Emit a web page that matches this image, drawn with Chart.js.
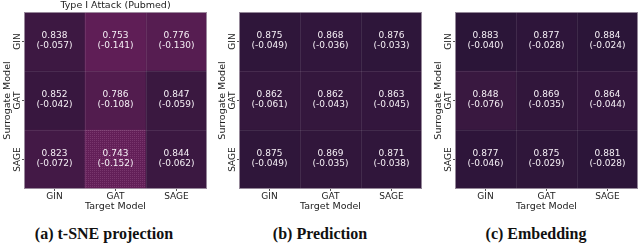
<!DOCTYPE html>
<html><head><meta charset="utf-8">
<script src="https://cdn.jsdelivr.net/npm/chart.js@4.4.0/dist/chart.umd.min.js"></script>
<style>
html,body{margin:0;padding:0;background:#fff;width:640px;height:243px;overflow:hidden;position:relative;}
canvas{position:absolute;top:0;}
.cap{position:absolute;top:225px;font:bold 16px "Liberation Serif","Times New Roman",serif;line-height:18px;color:#111;white-space:nowrap;transform:translateX(-50%);}
</style></head><body>
<canvas id="c0" width="210" height="215" style="left:0px"></canvas>
<canvas id="c1" width="210" height="215" style="left:215px"></canvas>
<canvas id="c2" width="209" height="215" style="left:431px"></canvas>
<div class="cap" style="left:104px">(a) t-SNE projection</div>
<div class="cap" style="left:320px">(b) Prediction</div>
<div class="cap" style="left:536px">(c) Embedding</div>
<script>
// ---- data ----
const targetModels = ['GIN', 'GAT', 'SAGE'];
const surrogateModels = ['GIN', 'GAT', 'SAGE'];
const chartTitle = 'Type I Attack (Pubmed)';
const xAxisTitle = 'Target Model';
const yAxisTitle = 'Surrogate Model';

const tsneValues = [[0.838, 0.753, 0.776], [0.852, 0.786, 0.847], [0.823, 0.743, 0.844]];
const tsneDrops  = [[-0.057, -0.141, -0.130], [-0.042, -0.108, -0.059], [-0.072, -0.152, -0.062]];
const predValues = [[0.875, 0.868, 0.876], [0.862, 0.862, 0.863], [0.875, 0.869, 0.871]];
const predDrops  = [[-0.049, -0.036, -0.033], [-0.061, -0.043, -0.045], [-0.049, -0.035, -0.038]];
const embValues  = [[0.883, 0.877, 0.884], [0.848, 0.869, 0.864], [0.877, 0.875, 0.881]];
const embDrops   = [[-0.040, -0.028, -0.024], [-0.076, -0.035, -0.044], [-0.046, -0.029, -0.028]];

// ---- styling ----
const FONT = 'DejaVu Sans';
const TEXT = '#222';
const lightRGB = [99, 31, 88], darkRGB = [43, 21, 56];
const vLight = 0.743, vDark = 0.884;
function cmap(v) {
  let t = (v - vLight) / (vDark - vLight);
  t = Math.max(0, Math.min(1, t));
  const c = lightRGB.map((l, k) => Math.round(l + (darkRGB[k] - l) * t));
  return `rgb(${c[0]},${c[1]},${c[2]})`;
}
function hatch(base) {
  const p = document.createElement('canvas');
  p.width = 2; p.height = 2;
  const g = p.getContext('2d');
  g.fillStyle = base; g.fillRect(0, 0, 2, 2);
  g.fillStyle = 'rgba(170,110,160,0.3)'; g.fillRect(0, 0, 1, 1);
  return g.createPattern(p, 'repeat');
}

const cellText = {
  id: 'cellText',
  afterDatasetsDraw(chart) {
    const ctx = chart.ctx;
    const area = chart.chartArea;
    const metas = chart.data.datasets.map((d, i) => chart.getDatasetMeta(i));
    ctx.save();
    // dividers
    ctx.strokeStyle = 'rgba(255,255,255,0.09)';
    ctx.lineWidth = 1;
    const bars0 = metas[0].data;
    for (let j = 0; j < bars0.length - 1; j++) {
      const bx = Math.round((bars0[j].x + bars0[j + 1].x) / 2) + 0.5;
      ctx.beginPath(); ctx.moveTo(bx, area.top); ctx.lineTo(bx, area.bottom); ctx.stroke();
    }
    for (let i = 0; i < metas.length - 1; i++) {
      const by = Math.round(metas[i].data[0].y) + 0.5;
      ctx.beginPath(); ctx.moveTo(area.left, by); ctx.lineTo(area.right, by); ctx.stroke();
    }
    // frame
    ctx.strokeStyle = 'rgba(175,165,178,0.8)';
    ctx.strokeRect(area.left + 0.5, area.top + 0.5, area.right - area.left - 1, area.bottom - area.top - 1);
    // text
    ctx.fillStyle = '#f6f0f6';
    ctx.font = `9px "${FONT}"`;
    ctx.textAlign = 'center';
    ctx.textBaseline = 'middle';
    chart.data.datasets.forEach((ds, i) => {
      metas[i].data.forEach((bar, j) => {
        const cx = bar.x, cy = (bar.y + bar.base) / 2;
        ctx.fillText(ds.vals[j].toFixed(3), cx, cy - 5.7);
        ctx.fillText('(' + ds.drops[j].toFixed(3) + ')', cx, cy + 4.5);
      });
    });
    ctx.restore();
  }
};

function makeChart(id, values, drops, withTitle, padRight, hatchCell) {
  const nRows = surrogateModels.length;
  const datasets = [];
  for (let k = 0; k < nRows; k++) {
    const r = nRows - 1 - k; // bottom dataset = last surrogate model
    const colors = values[r].map((v, j) => {
      const c = cmap(v);
      return (hatchCell && hatchCell[0] === r && hatchCell[1] === j) ? hatch(c) : c;
    });
    datasets.push({
      label: surrogateModels[r],
      data: values[r].map(() => 1),
      vals: values[r],
      drops: drops[r],
      backgroundColor: colors,
      borderWidth: 0,
      barPercentage: 1,
      categoryPercentage: 1,
      stack: 's'
    });
  }
  const yLabels = [...surrogateModels].reverse();
  const gridOpts = { display: true, drawOnChartArea: false, drawTicks: true, tickLength: 2, tickColor: '#555', tickWidth: 1, offset: false };
  return new Chart(document.getElementById(id), {
    type: 'bar',
    data: { labels: targetModels, datasets },
    plugins: [cellText],
    options: {
      responsive: false,
      maintainAspectRatio: false,
      animation: false,
      devicePixelRatio: 1,
      layout: { padding: { top: withTitle ? 0 : 12, right: padRight, left: 0, bottom: 0 } },
      plugins: {
        legend: { display: false },
        tooltip: { enabled: false },
        title: {
          display: withTitle, text: chartTitle, fullSize: false,
          font: { family: FONT, size: 9.5, weight: 'normal' }, color: TEXT,
          padding: { top: 0.3, bottom: 0.3 }
        }
      },
      scales: {
        x: {
          type: 'category', stacked: true, offset: true,
          grid: gridOpts, border: { display: false },
          ticks: { font: { family: FONT, size: 9 }, color: TEXT, padding: 0, maxRotation: 0, autoSkip: false },
          title: { display: true, text: xAxisTitle, font: { family: FONT, size: 9.5 }, color: TEXT, padding: { top: 0, bottom: 3.2 } },
          afterFit: s => { s.height = 26; }
        },
        y: {
          type: 'linear', stacked: true, min: 0, max: nRows,
          afterBuildTicks: s => { s.ticks = yLabels.map((_, i) => ({ value: i + 0.5 })); },
          grid: gridOpts, border: { display: false },
          ticks: { callback: (v, i) => yLabels[i], minRotation: 90, maxRotation: 90, crossAlign: 'center', padding: -8.2, font: { family: FONT, size: 9 }, color: TEXT },
          title: { display: true, text: yAxisTitle, font: { family: FONT, size: 9.5 }, color: TEXT, padding: { top: 1.5, bottom: 0 } },
          afterFit: s => { s.width = 24; }
        }
      }
    }
  });
}

makeChart('c0', tsneValues, tsneDrops, true, 3, [2, 1]);
makeChart('c1', predValues, predDrops, false, 3, null);
makeChart('c2', embValues, embDrops, false, 2, null);
</script>
</body></html>
